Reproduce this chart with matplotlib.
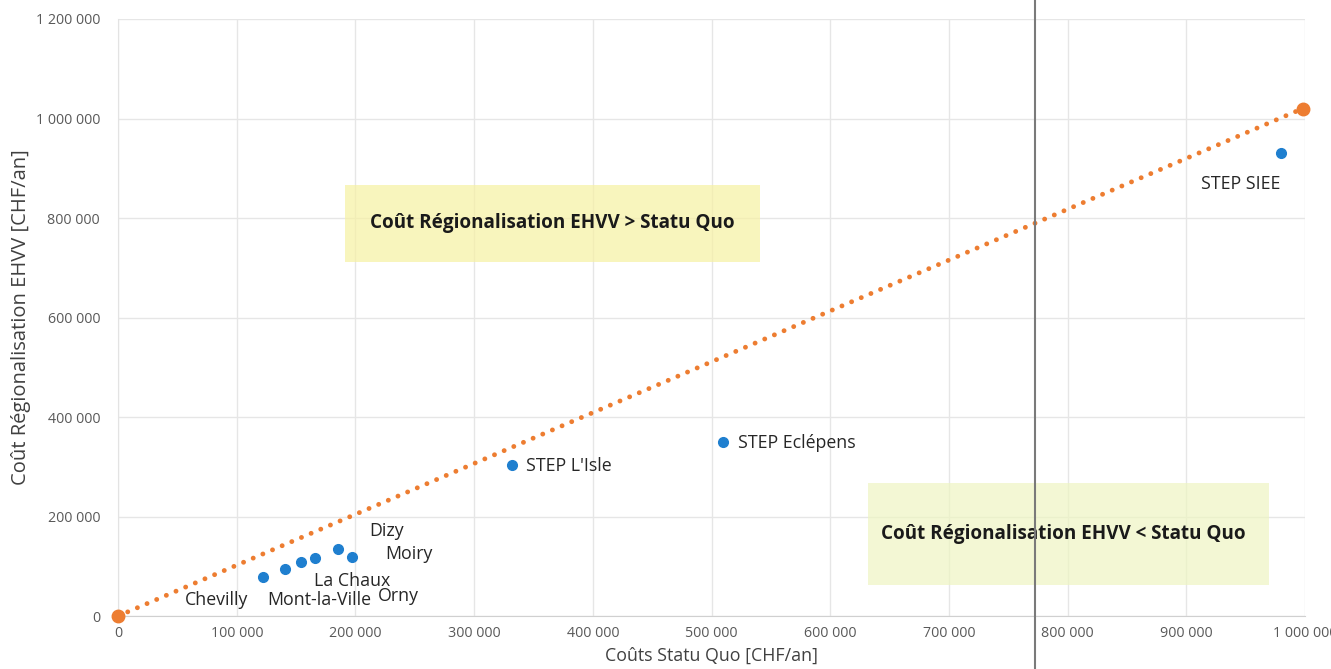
import matplotlib
matplotlib.use('Agg')
import matplotlib.pyplot as plt
from matplotlib.patches import Rectangle
from matplotlib.ticker import FuncFormatter

# STEP data (CHF/an)
noms = ['Chevilly', 'Mont-la-Ville', 'La Chaux', 'Orny', 'Dizy', 'Moiry',
        "STEP L'Isle", 'STEP Eclépens', 'STEP SIEE']
cout_statu_quo = [122000, 141000, 154000, 166000, 185000, 197000, 332000, 510000, 980000]
cout_ehvv = [78000, 94000, 108000, 116000, 134000, 118000, 304000, 350000, 930000]

# reference line (equal cost)
ref_x = [0, 998000]
ref_y = [0, 1020000]

x_ticks = [0, 100000, 200000, 300000, 400000, 500000, 600000, 700000, 800000, 900000, 1000000]
y_ticks = [0, 200000, 400000, 600000, 800000, 1000000, 1200000]

# label offsets in pixels (ha)
lbl_off = [(-46, -23, 'center'), (34, -31, 'center'), (51, -19, 'center'),
           (83, -38, 'center'), (49, 18, 'center'), (57, 3, 'center'),
           (14, -1, 'left'), (15, -1, 'left'), (-41, -31, 'center')]

plt.rcParams['font.family'] = ['Open Sans', 'DejaVu Sans']

fig = plt.figure(figsize=(13.31, 6.69), dpi=100)
ax = fig.add_axes([0.0887, 0.0792, 0.8918, 0.8924])

def fmt(v, pos):
    return '{:,.0f}'.format(v).replace(',', ' ')

ax.plot(ref_x, ref_y, linestyle=(0, (0.01, 2.15)), linewidth=3.5, color='#ed7d31',
        dash_capstyle='round', zorder=2)
ax.plot(ref_x, ref_y, 'o', color='#ed7d31', markersize=9, zorder=3, clip_on=False)
ax.plot(cout_statu_quo, cout_ehvv, 'o', color='#1f7fcf', markersize=7, zorder=4)

for n, x, y, (dx, dy, ha) in zip(noms, cout_statu_quo, cout_ehvv, lbl_off):
    ax.annotate(n, (x, y), xytext=(dx, dy), textcoords='offset pixels',
                ha=ha, va='center', fontsize=12.8, color='#262626', zorder=5)

# shaded zones
ax.add_patch(Rectangle((0.191, 0.593), 0.350, 0.129, transform=ax.transAxes,
                       facecolor='#f6f1a2', edgecolor='none', alpha=0.7, zorder=1))
ax.add_patch(Rectangle((0.632, 0.052), 0.338, 0.171, transform=ax.transAxes,
                       facecolor='#eef5c2', edgecolor='none', alpha=0.7, zorder=1))
ax.text(0.366, 0.658, 'Coût Régionalisation EHVV > Statu Quo', transform=ax.transAxes,
        ha='center', va='center', fontsize=13.6, fontweight='bold', color='#1a1a1a', zorder=5)
ax.text(0.796, 0.137, 'Coût Régionalisation EHVV < Statu Quo', transform=ax.transAxes,
        ha='center', va='center', fontsize=13.6, fontweight='bold', color='#1a1a1a', zorder=5)

ax.set_xlim(0, 1000000)
ax.set_ylim(0, 1200000)
ax.set_xticks(x_ticks)
ax.set_yticks(y_ticks)
ax.xaxis.set_major_formatter(FuncFormatter(fmt))
ax.yaxis.set_major_formatter(FuncFormatter(fmt))
ax.tick_params(length=0, labelsize=10.3, labelcolor='#595959')
ax.tick_params(axis='x', pad=7)
ax.tick_params(axis='y', pad=13)
ax.grid(True, color='#e6e6e6', linewidth=1)
ax.set_axisbelow(True)
for s in ['top', 'right']:
    ax.spines[s].set_visible(False)
ax.spines['left'].set_color('#e3e3e3')
ax.spines['bottom'].set_color('#d0d0d0')

ax.set_xlabel('Coûts Statu Quo [CHF/an]', fontsize=12.8, color='#404040', labelpad=4)
ax.set_ylabel('Coût Régionalisation EHVV [CHF/an]', fontsize=14.5, color='#404040', labelpad=4)
ax.yaxis.set_label_coords(-0.0735, 0.5)

# fold line of the scanned page
fig.add_artist(plt.Line2D([1035 / 1331, 1035 / 1331], [0, 1], transform=fig.transFigure,
                          color='#7a7a7a', linewidth=1.5))

fig.savefig('out.png', dpi=100)
